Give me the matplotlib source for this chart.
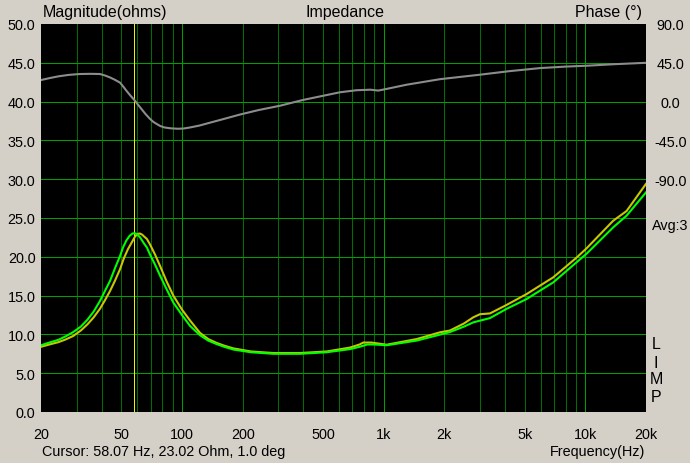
import matplotlib
matplotlib.use('Agg')
from matplotlib import pyplot as plt
import numpy as np

# impedance magnitude, channel 1 (green)
freq_a = [20, 22, 24.4, 26.5, 28.9, 31.5, 34, 36.5, 39.2, 41.5, 44, 46.5, 49.3, 51, 53,
          55, 56.8, 58.3, 60, 62, 64.5, 67, 69.4, 73.5, 77.8, 84, 90.6, 100, 109.6,
          122.8, 135, 148.6, 162, 179.8, 220, 283.8, 384.8, 521.7, 681,
          760, 830, 900, 1035, 1458, 1903, 2132, 2500, 2783, 3003, 3366, 4074,
          5117, 6932, 9057, 10152, 13756, 16026, 20000]
mag_a = [8.6, 8.95, 9.3, 9.75, 10.3, 11.0, 11.9, 12.95, 14.3, 15.6, 16.9, 18.5, 20.1, 21.2, 22.1,
         22.7, 23.0, 23.05, 22.9, 22.5, 21.8, 21.2, 20.3, 19.0, 17.6, 15.8, 14.1, 12.5, 11.1,
         9.9, 9.2, 8.75, 8.4, 8.05, 7.7, 7.5, 7.5, 7.7, 8.1,
         8.4, 8.7, 8.7, 8.6, 9.2, 9.97, 10.3, 11.0, 11.55, 11.77, 12.1, 13.3,
         14.56, 16.7, 19.3, 20.4, 23.8, 25.3, 28.3]

# impedance magnitude, channel 2 (yellow)
freq_b = [20, 22, 24.4, 26.5, 28.9, 31.5, 34, 36.5, 39.2, 41.5, 44, 46.5, 49.3, 51.5, 54,
          56.5, 58.5, 60.3, 61.9, 63.5, 65, 67, 69.4, 73.5, 77.8, 84, 90.6, 100, 109.6,
          122.8, 135, 148.6, 162, 179.8, 220, 283.8, 384.8, 521.7, 681,
          760, 793, 870, 1035, 1458, 1903, 2132, 2500, 2783, 3003, 3366, 4074,
          5117, 6932, 9057, 10152, 13756, 16026, 20000]
mag_b = [8.4, 8.7, 9.0, 9.35, 9.8, 10.5, 11.3, 12.2, 13.3, 14.4, 15.6, 16.9, 18.4, 19.8, 21.0,
         21.9, 22.6, 22.95, 23.0, 22.85, 22.6, 22.3, 21.6, 20.3, 18.85, 16.8, 15.0, 13.2, 11.8,
         10.2, 9.4, 8.9, 8.55, 8.2, 7.8, 7.6, 7.6, 7.8, 8.3,
         8.7, 8.95, 8.95, 8.67, 9.4, 10.27, 10.5, 11.4, 12.2, 12.6, 12.7, 13.8,
         15.2, 17.35, 19.9, 21.1, 24.65, 25.9, 29.4]

# phase (degrees)
freq_p = [20, 22, 24.4, 27.5, 31.2, 35, 39.2, 41.5, 44, 46.5, 49.3, 51, 53, 55.5, 58.5,
          60.5, 63, 66, 69.4, 72, 75, 78, 81.9, 88, 95.5, 102, 109.6, 122,
          140, 165, 194, 240, 306, 400, 500, 607, 735, 860, 940, 1000, 1301, 1903,
          3003, 4200, 5990, 8000, 10152, 14000, 20000]
phase = [25, 27.2, 29.3, 31, 32, 32.2, 32, 30.3, 28, 25.3, 22, 17.8, 12.7, 7, 1,
         -3.5, -8.6, -14.5, -20, -23.4, -26, -28.3, -30, -31, -31.5, -31.2, -30, -27.8,
         -24, -19.5, -15, -9.8, -4.8, 2, 6.7, 10.8, 13.2, 13.8, 12.8, 14, 19.6, 26,
         31.2, 35.3, 38.9, 40.6, 41.6, 43.4, 45]

cursor_f = 58.07
label_freqs = [20, 50, 100, 200, 500, 1000, 2000, 5000, 10000, 20000]
label_text = ['20', '50', '100', '200', '500', '1k', '2k', '5k', '10k', '20k']
mag_ticks = [0, 5, 10, 15, 20, 25, 30, 35, 40, 45, 50]
phase_ticks = [90, 45, 0, -45, -90]

minor_lines = [30, 40, 50, 60, 70, 80, 90, 200, 300, 400, 500, 600, 700, 800, 900,
               2000, 3000, 4000, 5000, 6000, 7000, 8000, 9000]
major_lines = [100, 1000, 10000]

plt.rcParams['font.family'] = ['Liberation Sans', 'DejaVu Sans']
W, H = 690, 464
bg = '#d4d0c8'
fig = plt.figure(figsize=(W / 100, H / 100), dpi=100, facecolor=bg)
ax = fig.add_axes([41 / W, 1 - 413 / H, 605 / W, 388 / H], facecolor='black')
ax2 = ax.twinx()

# grid drawn on the main axes, phase on the twin, magnitude curves on top
grid_kw = dict(lw=0.72, zorder=1, antialiased=False)
for f in minor_lines:
    ax.axvline(f, color='#006e00', **grid_kw)
for f in major_lines:
    ax.axvline(f, color='#00a000', **grid_kw)
for m in mag_ticks[1:-1]:
    ax.axhline(m, color='#00a000', **grid_kw)
ax.axvline(cursor_f, color='#f0f000', lw=0.72, zorder=2, antialiased=False)

ax2.plot(freq_p, phase, color='#8c8c8c', lw=1.5, zorder=3)
ax2.plot(freq_b, np.array(mag_b) * 9 - 360, color='#c8c800', lw=1.5, zorder=4)
ax2.plot(freq_a, np.array(mag_a) * 9 - 360, color='#00ff00', lw=1.5, zorder=5)

ax.set_xscale('log')
ax.set_xlim(20, 20000)
ax.set_ylim(0, 50)
ax2.set_ylim(-360, 90)

ax.set_xticks(label_freqs)
ax.set_xticklabels(label_text)
ax.xaxis.set_minor_locator(matplotlib.ticker.NullLocator())
ax.set_yticks(mag_ticks)
ax.set_yticklabels(['%.1f' % v for v in mag_ticks])
ax2.set_yticks(phase_ticks)
ax2.set_yticklabels(['%.1f' % v for v in phase_ticks], ha='center')

ax.tick_params(axis='x', length=0, pad=11, labelsize=10.4)
ax.tick_params(axis='y', length=0, pad=4, labelsize=10.4)
ax2.tick_params(axis='y', length=0, pad=17.5, labelsize=10.4)
for a in (ax, ax2):
    for s in a.spines.values():
        s.set_visible(False)


def px(x, y):
    return x / W, 1 - y / H


fig.text(*px(43, 13), 'Magnitude(ohms)', fontsize=11.5, va='center', ha='left')
fig.text(*px(345, 13), 'Impedance', fontsize=11.5, va='center', ha='center')
fig.text(*px(642, 13), 'Phase (°)', fontsize=11.5, va='center', ha='right')
fig.text(*px(42, 452), 'Cursor: 58.07 Hz, 23.02 Ohm, 1.0 deg', fontsize=10.4,
         va='center', ha='left')
fig.text(*px(645, 452), 'Frequency(Hz)', fontsize=10.4, va='center', ha='right')
fig.text(*px(652, 226), 'Avg:3', fontsize=10.4, va='center', ha='left')
for letter, y in zip('LIMP', [345, 363, 380, 398]):
    fig.text(*px(656, y), letter, fontsize=11.5, va='center', ha='center')

fig.savefig('out.png', dpi=100, facecolor=bg)
